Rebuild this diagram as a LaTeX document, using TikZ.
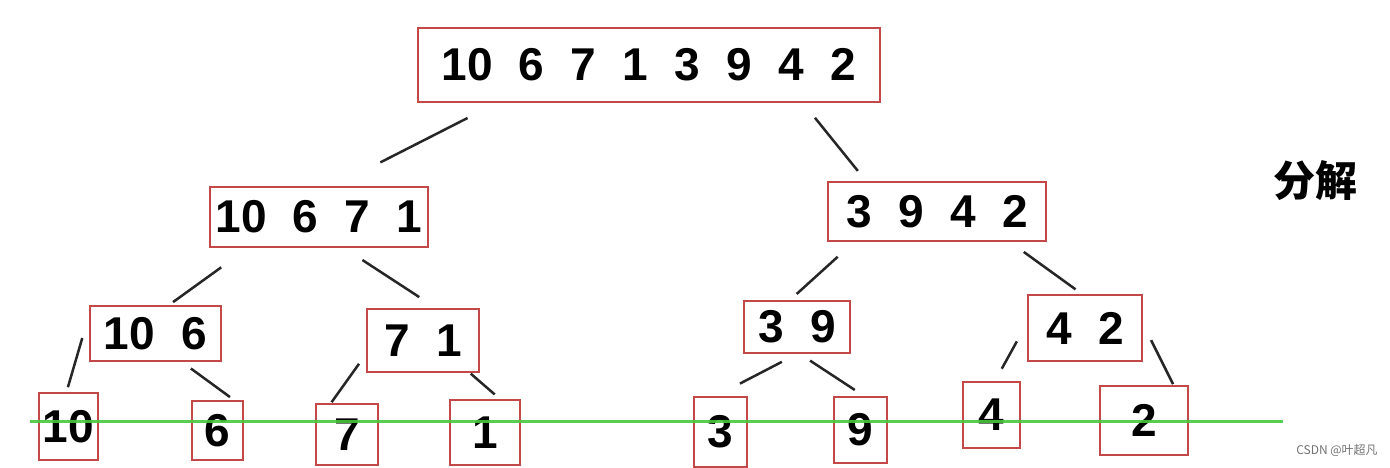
\documentclass[tikz,border=0pt]{standalone}
\usepackage{fontspec}
\setmainfont{Liberation Sans}
\newfontfamily\cjk{Noto Sans CJK SC}
\definecolor{boxred}{RGB}{196,72,72}
\definecolor{cutgreen}{RGB}{72,200,60}
\newcommand{\numgap}{\hspace{26.4pt}}

\begin{document}
\begin{tikzpicture}[x=1pt,y=-1pt,
  num/.style={draw=boxred,line width=2pt,inner sep=0pt,font=\fontsize{46}{50}\selectfont\bfseries},
  link/.style={line width=2.5pt,black!85}]
\path[fill=white,use as bounding box] (0,0) rectangle (1390,467);
\node[num,minimum width=462,minimum height=74] at (649,65) (all) {10\numgap 6\numgap 7\numgap 1\numgap 3\numgap 9\numgap 4\numgap 2};
\node[num,minimum width=218,minimum height=60] at (319,217) (h1) {10\numgap 6\numgap 7\numgap 1};
\node[num,minimum width=218,minimum height=59] at (937,211.5) (h2) {3\numgap 9\numgap 4\numgap 2};
\node[num,minimum width=131,minimum height=55] at (155.5,333.5) (q1) {10\numgap 6};
\node[num,minimum width=112,minimum height=63] at (423,340.5) (q2) {7\numgap 1};
\node[num,minimum width=106,minimum height=52] at (797,327) (q3) {3\numgap 9};
\node[num,minimum width=114,minimum height=66] at (1085,328) (q4) {4\numgap 2};
\node[num,minimum width=59,minimum height=67] at (68.5,426.5) (n10) {10};
\node[num,minimum width=51,minimum height=59] at (217.5,430.5) (n6) {6};
\node[num,minimum width=62,minimum height=61] at (347,434.5) (n7) {7};
\node[num,minimum width=70,minimum height=65] at (485,432.5) (n1) {1};
\node[num,minimum width=53,minimum height=70] at (720.5,432) (n3) {3};
\node[num,minimum width=53,minimum height=66] at (860.5,430) (n9) {9};
\node[num,minimum width=57,minimum height=66] at (991.5,415) (n4) {4};
\node[num,minimum width=88,minimum height=69] at (1144,420.5) (n2) {2};
\node[font=\cjk\bfseries\fontsize{42}{46}\selectfont] at (1315,181) (split) {分解};
\node[font=\cjk\fontsize{12}{14}\selectfont,text=black!55] at (1337,450) (mark) {CSDN @叶超凡};
\coordinate (cutl) at (30,421);
\coordinate (cutr) at (1283,421);
\draw[link,shorten <=33pt,shorten >=52pt] ([xshift=-152pt]all.south) -- ([xshift=15pt]h1.north);
\draw[link,shorten <=19pt,shorten >=13pt] ([xshift=154pt]all.south) -- ([xshift=-71pt]h2.north);
\draw[link,shorten <=33pt,shorten >=5pt] ([xshift=-71pt]h1.south) -- ([xshift=13.5pt]q1.north);
\draw[link,shorten <=22pt,shorten >=20pt] ([xshift=25pt]h1.south) -- ([xshift=13pt]q2.north);
\draw[link,shorten <=22pt,shorten >=9pt] ([xshift=-83pt]h2.south) -- ([xshift=-7pt]q3.north);
\draw[link,shorten <=17pt,shorten >=8pt] ([xshift=73pt]h2.south) -- ([xshift=-3pt]q4.north);
\draw[link,shorten <=24pt,shorten >=5pt] ([yshift=18.5pt]q1.west) -- ([xshift=-2pt]n10.north);
\draw[link,shorten <=11pt,shorten >=5pt] ([xshift=26.5pt]q1.south) -- ([xshift=16.5pt]n6.north);
\draw[link,shorten <=12pt,shorten >=1pt] ([yshift=-13.5pt]q2.west) -- ([xshift=-16pt]n7.north);
\draw[link,shorten <=1pt,shorten >=7pt] ([xshift=47pt]q2.south) -- ([xshift=15pt]n1.north);
\draw[link,shorten <=17pt,shorten >=27pt] (q3.south) -- ([xshift=-4.5pt]n3.north);
\draw[link,shorten <=12pt,shorten >=11pt] ([xshift=3pt]q3.south) -- ([xshift=3.5pt]n9.north);
\draw[link,shorten <=21pt,shorten >=14pt] ([yshift=5pt]q4.west) -- ([xshift=3.5pt]n4.north);
\draw[link,shorten <=18pt,shorten >=1pt] ([yshift=4pt]q4.east) -- ([xshift=29.5pt]n2.north);
\draw[cutgreen,line width=3pt,opacity=0.9] (cutl) -- (cutr);
\end{tikzpicture}
\end{document}
